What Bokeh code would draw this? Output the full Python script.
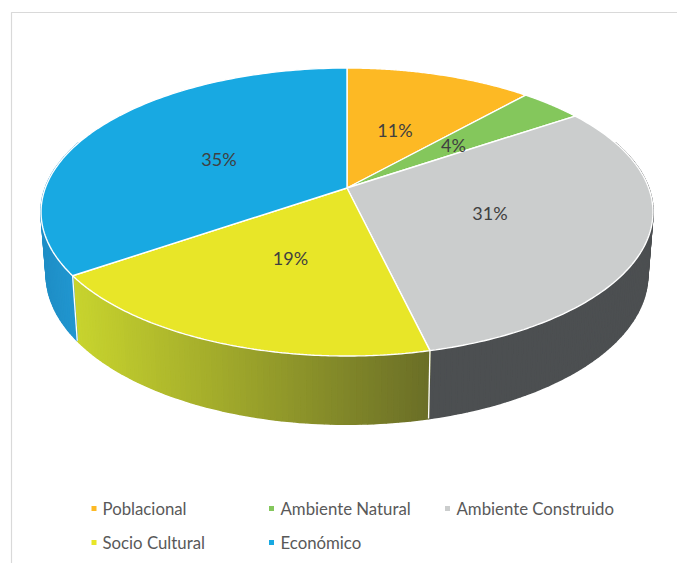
import numpy as np
from bokeh.plotting import figure
from bokeh.models import Range1d
from bokeh.core.properties import value
from bokeh.embed import file_html
from bokeh.resources import INLINE

# --- data
categories = ["Poblacional", "Ambiente Natural", "Ambiente Construido", "Socio Cultural", "Económico"]
shares = [11.6, 3.9, 30.8, 19.1, 34.6]
share_labels = ["11%", "4%", "31%", "19%", "35%"]

# --- style
top_colors = ["#FDB924", "#84C75C", "#CBCDCD", "#E8E628", "#18A9E2"]
side_left = [None, None, (76, 79, 81), (200, 212, 46), (30, 142, 198)]
side_right = [None, None, (76, 79, 81), (106, 110, 39), (34, 152, 210)]

# --- layout (page pixels)
W, H = 677, 563
CX, CY = 346.5, 187.5
A, B, K = 301.7, 140.0, 1 / 6
DEPTH, SHRINK_X, SHRINK_Y = 61.5, 0.983, 1.04
label_xy = [(394.5, 129.5), (453, 144.5), (489.5, 212.5), (290, 257), (218.5, 158)]
legend_marker_xy = [(93.5, 508), (271, 508), (447, 508), (93.5, 542), (271, 542)]
legend_text_xy = [(102, 507.5), (280, 507.5), (456, 507.5), (102, 541.5), (280, 541.5)]


def rim(theta, lower=False):
    u, v = np.sin(theta), np.cos(theta)
    dx = A * u / (1 + K * v)
    dy = -B * v / (1 + K * v)
    if lower:
        return CX + SHRINK_X * dx, CY + SHRINK_Y * dy + DEPTH
    return CX + dx, CY + dy


p = figure(width=W, height=H, output_backend="svg", toolbar_location=None,
           x_range=Range1d(0, W), y_range=Range1d(H, 0),
           min_border=0, outline_line_color=None, background_fill_color="white")
p.axis.visible = False
p.grid.visible = False

# chart frame
p.line([11, 11, W], [H, 12, 12], line_color="#D9D9D9", line_width=1.2)

edges = np.concatenate([[0], np.cumsum(shares)]) / sum(shares) * 2 * np.pi

# side wall, as narrow strips shaded along x
xs, ys, cols = [], [], []
for i in range(5):
    t0, t1 = edges[i], edges[i + 1]
    lo, hi = max(t0, np.radians(70)), min(t1, np.radians(290))
    if lo >= hi:
        continue
    ts = np.arange(lo, hi + 1e-9, np.radians(1.0))
    ts = np.append(ts, hi)
    sx = [rim(t)[0] for t in ts]
    xa, xb = min(sx), max(sx)
    for a, b in zip(ts[:-1], ts[1:]):
        x0, y0 = rim(a)
        x1, y1 = rim(b)
        x2, y2 = rim(b, True)
        x3, y3 = rim(a, True)
        f = (0.5 * (x0 + x1) - xa) / (xb - xa)
        c = [round(l + (r - l) * f) for l, r in zip(side_left[i], side_right[i])]
        xs.append([x0, x1, x2, x3])
        ys.append([y0, y1, y2, y3])
        cols.append("#%02x%02x%02x" % tuple(c))
p.patches(xs, ys, fill_color=cols, line_color=cols, line_width=1.6)

# white seams on the wall
for t in edges[3:5]:
    a, b = rim(t), rim(t, True)
    p.line([a[0], b[0]], [a[1], b[1]], line_color="white", line_width=1.3)

# top face
txs, tys = [], []
for i in range(5):
    ts = np.linspace(edges[i], edges[i + 1], 120)
    ex, ey = rim(ts)
    txs.append(np.concatenate([[CX], ex]).tolist())
    tys.append(np.concatenate([[CY], ey]).tolist())
p.patches(txs, tys, fill_color=top_colors, line_color="white", line_width=1.4)

# value labels
p.text([q[0] for q in label_xy], [q[1] for q in label_xy], text=share_labels,
       text_font=value("Lato"), text_font_size="18px", text_color="#404040",
       text_align="center", text_baseline="middle")

# legend
p.rect([q[0] for q in legend_marker_xy], [q[1] for q in legend_marker_xy], width=5, height=5,
       fill_color=top_colors, line_color=None)
p.text([q[0] for q in legend_text_xy], [q[1] for q in legend_text_xy], text=categories,
       text_font=value("Lato"), text_font_size="16.8px", text_color="#595959",
       text_align="left", text_baseline="middle")

open("out.html", "w").write(file_html(p, INLINE))
